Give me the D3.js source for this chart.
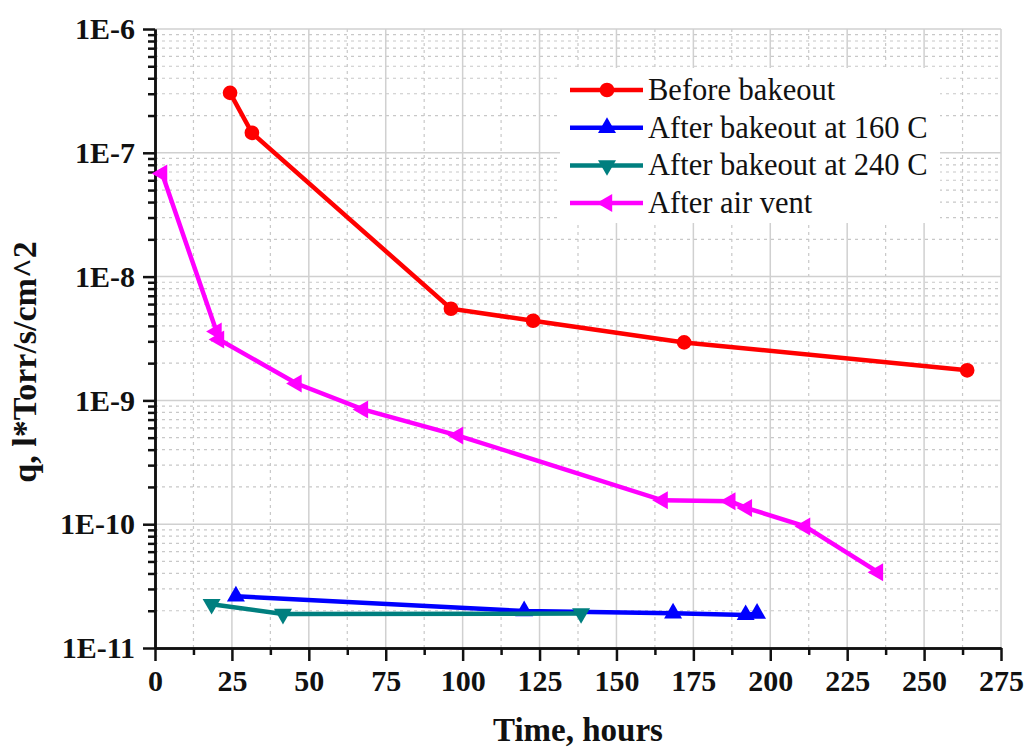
<!DOCTYPE html>
<html>
<head>
<meta charset="utf-8">
<script src="https://cdn.jsdelivr.net/npm/d3@7"></script>
<style>
  body { margin: 0; background: #fff; }
  text { font-family: "Liberation Serif", "Times New Roman", serif; fill: #111; }
</style>
</head>
<body>
<script>
var svg_width = 1025;
var svg_height = 751;
var plotLeft = 155, plotTop = 29, plotRight = 1001, plotBottom = 648;

// data
var seriesNames = ['Before bakeout', 'After bakeout at 160 C', 'After bakeout at 240 C', 'After air vent'];
var seriesColors = ['#ff0000', '#0000ff', '#007f7f', '#ff00ff'];

var beforeHours = [24.4, 31.5, 96.2, 122.9, 172, 264];
var beforeQ = [3.05e-7, 1.45e-7, 5.5e-9, 4.4e-9, 2.94e-9, 1.75e-9];

var bake160Hours = [26.3, 120, 168.4, 192, 195.7];
var bake160Q = [2.62e-11, 1.99e-11, 1.91e-11, 1.85e-11, 1.9e-11];

var bake240Hours = [18.4, 41.6, 138.5];
var bake240Q = [2.26e-11, 1.88e-11, 1.9e-11];

var ventHours = [2.3, 20, 20.8, 46, 67.6, 98.5, 165, 187, 192.4, 211.3, 235];
var ventQ = [6.8e-8, 3.6e-9, 3.1e-9, 1.37e-9, 8.45e-10, 5.2e-10, 1.56e-10, 1.53e-10, 1.35e-10, 9.6e-11, 4.1e-11];

var xTicks = [0, 25, 50, 75, 100, 125, 150, 175, 200, 225, 250, 275];
var yTicks = [1e-11, 1e-10, 1e-9, 1e-8, 1e-7, 1e-6];
var yTickLabels = ['1E-11', '1E-10', '1E-9', '1E-8', '1E-7', '1E-6'];

var series = [
  {hours: beforeHours, q: beforeQ, marker: 'circle'},
  {hours: bake160Hours, q: bake160Q, marker: 'up'},
  {hours: bake240Hours, q: bake240Q, marker: 'down'},
  {hours: ventHours, q: ventQ, marker: 'left'}
];

var svg = d3.select('body').append('svg')
            .attr('width', svg_width)
            .attr('height', svg_height);

var xscale = d3.scaleLinear().domain([0, 275]).range([plotLeft, plotRight]);
var yscale = d3.scaleLog().domain([1e-11, 1e-6]).range([plotBottom, plotTop]);

var xMinor = d3.range(12.5, 275, 25);
var yMinor = [];
yTicks.slice(0, -1).forEach(function(d) {
  for (var k = 2; k <= 9; k++) yMinor.push(d * k);
});

// grid
var grid = svg.append('g');
grid.selectAll('.vminor').data(xMinor).enter().append('line')
    .attr('x1', d => xscale(d)).attr('x2', d => xscale(d))
    .attr('y1', plotTop).attr('y2', plotBottom)
    .attr('stroke', '#c8c8c8').attr('stroke-width', 1.2).attr('stroke-dasharray', '3,4');
grid.selectAll('.hminor').data(yMinor).enter().append('line')
    .attr('x1', plotLeft).attr('x2', plotRight)
    .attr('y1', d => yscale(d)).attr('y2', d => yscale(d))
    .attr('stroke', '#c8c8c8').attr('stroke-width', 1.2).attr('stroke-dasharray', '3,4');
grid.selectAll('.vmajor').data(xTicks.slice(1)).enter().append('line')
    .attr('x1', d => xscale(d)).attr('x2', d => xscale(d))
    .attr('y1', plotTop).attr('y2', plotBottom)
    .attr('stroke', '#d0d0d0').attr('stroke-width', 1.5);
grid.selectAll('.hmajor').data(yTicks.slice(1)).enter().append('line')
    .attr('x1', plotLeft).attr('x2', plotRight)
    .attr('y1', d => yscale(d)).attr('y2', d => yscale(d))
    .attr('stroke', '#d0d0d0').attr('stroke-width', 1.5);

// axes
var xaxis = d3.axisBottom(xscale).tickValues(xTicks).tickSize(13).tickPadding(9).tickSizeOuter(0);
var xaxisMinor = d3.axisBottom(xscale).tickValues(xMinor).tickSize(7).tickFormat('').tickSizeOuter(0);
var yaxis = d3.axisLeft(yscale).tickValues(yTicks).tickSize(12).tickPadding(8).tickSizeOuter(0)
              .tickFormat((d, i) => yTickLabels[i]);
var yaxisMinor = d3.axisLeft(yscale).tickValues(yMinor).tickSize(7).tickFormat('').tickSizeOuter(0);

[[xaxisMinor, 'translate(0,' + plotBottom + ')'], [xaxis, 'translate(0,' + plotBottom + ')'],
 [yaxisMinor, 'translate(' + plotLeft + ',0)'], [yaxis, 'translate(' + plotLeft + ',0)']].forEach(function(a) {
  var g = svg.append('g').attr('transform', a[1]).call(a[0]);
  g.selectAll('path, line').attr('stroke', '#111').attr('stroke-width', 2.5);
  g.selectAll('text').attr('font-size', 30).attr('font-weight', 'bold')
   .attr('font-family', '"Liberation Serif", serif').attr('fill', '#111');
});

// series
var line = d3.line().x(d => xscale(d[0])).y(d => yscale(d[1]));
var symbolFor = {
  circle: {type: d3.symbolCircle, size: 170, rot: 0},
  up: {type: d3.symbolTriangle, size: 140, rot: 0},
  down: {type: d3.symbolTriangle, size: 140, rot: 180},
  left: {type: d3.symbolTriangle, size: 140, rot: -90}
};

series.forEach(function(s, i) {
  var pts = s.hours.map((h, j) => [h, s.q[j]]);
  var g = svg.append('g');
  g.append('path').datum(pts).attr('d', line)
   .attr('fill', 'none').attr('stroke', seriesColors[i]).attr('stroke-width', 4.5);
  var sym = symbolFor[s.marker];
  g.selectAll('.m').data(pts).enter().append('path')
   .attr('d', d3.symbol().type(sym.type).size(sym.size))
   .attr('transform', d => 'translate(' + xscale(d[0]) + ',' + yscale(d[1]) + ') rotate(' + sym.rot + ')')
   .attr('fill', seriesColors[i]);
});

// legend
var legend = svg.append('g').attr('transform', 'translate(560,68)');
legend.append('rect').attr('width', 380).attr('height', 155).attr('fill', '#fff');
seriesNames.forEach(function(name, i) {
  var y = 22 + i * 37.7;
  var sym = symbolFor[series[i].marker];
  legend.append('line').attr('x1', 10).attr('x2', 83).attr('y1', y).attr('y2', y)
        .attr('stroke', seriesColors[i]).attr('stroke-width', 4.5);
  legend.append('path').attr('d', d3.symbol().type(sym.type).size(sym.size))
        .attr('transform', 'translate(47,' + y + ') rotate(' + sym.rot + ')')
        .attr('fill', seriesColors[i]);
  legend.append('text').attr('x', 88).attr('y', y + 10).attr('font-size', 30.5).text(name);
});

// axis titles
svg.append('text').attr('x', 578).attr('y', 741).attr('text-anchor', 'middle')
   .attr('font-size', 33).attr('font-weight', 'bold').text('Time, hours');
svg.append('text').attr('transform', 'translate(36,362) rotate(-90)').attr('text-anchor', 'middle')
   .attr('font-size', 34).attr('font-weight', 'bold').text('q, l*Torr/s/cm^2');
</script>
</body>
</html>
